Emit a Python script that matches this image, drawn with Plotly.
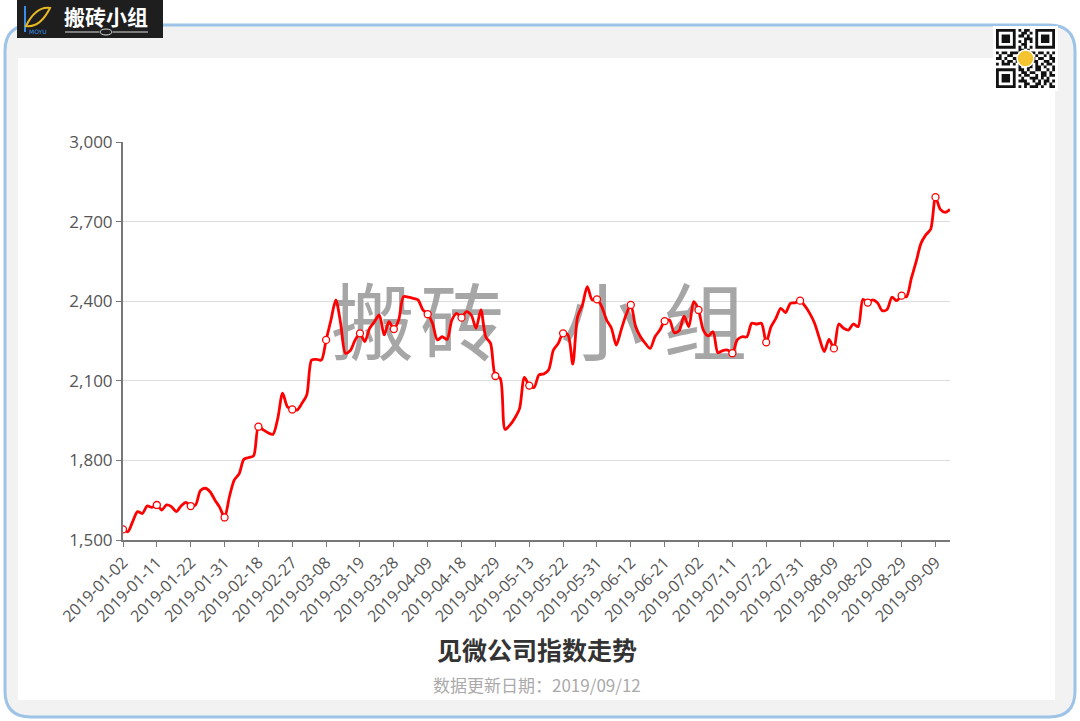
import plotly.graph_objects as go
import pandas as pd

# ---------------- data ----------------
holidays = ["2019-01-01", "2019-02-04", "2019-02-05", "2019-02-06", "2019-02-07",
            "2019-02-08", "2019-04-05", "2019-05-01", "2019-05-02", "2019-05-03",
            "2019-06-07"]
dates = [d.strftime("%Y-%m-%d") for d in pd.bdate_range("2019-01-02", "2019-09-12")
         if d.strftime("%Y-%m-%d") not in holidays]

index_values = [
    1540, 1531, 1569, 1607, 1600, 1628, 1623, 1632,
    1613, 1632, 1626, 1607, 1628, 1642, 1628,
    1632, 1686, 1695, 1682, 1651, 1623, 1585,
    1663, 1726, 1749, 1804, 1811, 1817, 1927,
    1915, 1904, 1898, 1958, 2053, 2002, 1992,
    1990, 2015, 2047, 2178, 2181, 2178, 2254,
    2329, 2405, 2317, 2204, 2214, 2254, 2279,
    2248, 2298, 2323, 2348, 2273, 2323, 2295,
    2329, 2417, 2415, 2411, 2405, 2367, 2351,
    2317, 2254, 2266, 2256, 2329, 2354, 2338,
    2361, 2348, 2298, 2367, 2266, 2241, 2118,
    2109, 1917, 1933, 1959, 1996, 2113, 2082,
    2075, 2122, 2126, 2141, 2216, 2241, 2279,
    2273, 2163, 2342, 2386, 2455, 2405, 2407,
    2379, 2329, 2298, 2235, 2291, 2348, 2386,
    2304, 2266, 2241, 2222, 2266, 2291, 2325,
    2329, 2281, 2289, 2344, 2304, 2398, 2367,
    2291, 2269, 2285, 2206, 2214, 2216, 2204,
    2254, 2266, 2266, 2317, 2314, 2317, 2245,
    2304, 2335, 2373, 2357, 2392, 2394, 2402,
    2382, 2354, 2317, 2260, 2210, 2256, 2222,
    2314, 2298, 2291, 2314, 2304, 2407, 2395,
    2405, 2394, 2364, 2369, 2415, 2402, 2421,
    2417, 2486, 2549, 2618, 2650, 2671, 2792,
    2746, 2735, 2746,
]

y_ticks = [1500, 1800, 2100, 2400, 2700, 3000]
label_step = 7
tick_dates = dates[::label_step]
marker_dates = dates[::label_step]
marker_values = index_values[::label_step]

title_text = "见微公司指数走势"
subtitle_text = "数据更新日期：2019/09/12"
watermark_text = "搬\u200a砖\u00a0\u00a0\u00a0小\u00a0组"
logo_text = "搬砖小组"

# ---------------- geometry helpers ----------------
W, H = 1080, 721
ML, MR, MT, MB = 123, 130, 142, 181
PW, PH = W - ML - MR, H - MT - MB


def X(px):
    return (px - ML) / PW


def Y(py):
    return (H - MB - py) / PH


def rrect_path(x0, y0, x1, y1, r):
    pts = [
        ("M", [(x0 + r, y0)]), ("L", [(x1 - r, y0)]), ("Q", [(x1, y0), (x1, y0 + r)]),
        ("L", [(x1, y1 - r)]), ("Q", [(x1, y1), (x1 - r, y1)]),
        ("L", [(x0 + r, y1)]), ("Q", [(x0, y1), (x0, y1 - r)]),
        ("L", [(x0, y0 + r)]), ("Q", [(x0, y0), (x0 + r, y0)]),
    ]
    s = ""
    for cmd, ps in pts:
        s += cmd + " " + " ".join(f"{X(a):.5f},{Y(b):.5f}" for a, b in ps) + " "
    return s + "Z"


def rect(x0, y0, x1, y1, fill, line_color=None, line_width=0, layer="below"):
    return dict(type="rect", xref="paper", yref="paper",
                x0=X(x0), x1=X(x1), y0=Y(y1), y1=Y(y0),
                fillcolor=fill, line=dict(color=line_color or fill, width=line_width),
                layer=layer)


shapes = []
# outer frame with rounded corners
shapes.append(dict(type="path", xref="paper", yref="paper", path=rrect_path(5, 25, 1075, 717, 26),
                   fillcolor="#f2f2f2", line=dict(color="#9dc3e6", width=3), layer="below"))
# white panel
shapes.append(rect(18, 58, 1055, 700, "#ffffff"))

# logo (top-left)
shapes.append(rect(17, 0, 163, 38, "#1e1e1e"))
shapes.append(dict(type="line", xref="paper", yref="paper", x0=X(25), x1=X(25), y0=Y(6), y1=Y(32),
                   line=dict(color="#3a8ee6", width=2)))
shapes.append(dict(type="path", xref="paper", yref="paper",
                   path=f"M {X(26):.5f},{Y(26):.5f} Q {X(36):.5f},{Y(6):.5f} {X(50):.5f},{Y(8):.5f} "
                        f"Q {X(40):.5f},{Y(28):.5f} {X(26):.5f},{Y(26):.5f} Z",
                   fillcolor="rgba(0,0,0,0)", line=dict(color="#e8b923", width=2)))
shapes.append(dict(type="line", xref="paper", yref="paper", x0=X(65), x1=X(99), y0=Y(32), y1=Y(32),
                   line=dict(color="#dddddd", width=1)))
shapes.append(dict(type="line", xref="paper", yref="paper", x0=X(113), x1=X(148), y0=Y(32), y1=Y(32),
                   line=dict(color="#dddddd", width=1)))
shapes.append(dict(type="circle", xref="paper", yref="paper", x0=X(100), x1=X(112), y0=Y(35), y1=Y(29),
                   line=dict(color="#dddddd", width=1), fillcolor="rgba(0,0,0,0)"))

# QR-like code (top-right)
qr_rows = [
    "111111101011001111111",
    "100000100110101000001",
    "101110101101001011101",
    "101110100011101011101",
    "101110101010101011101",
    "100000100110001000001",
    "111111101010101111111",
    "000000001101000000000",
    "101101110100110110101",
    "010011001011101001010",
    "110100111001010110011",
    "001011010110011001101",
    "101110101001101010110",
    "000000001001101101001",
    "111111101101001100101",
    "100000100110110011010",
    "101110101011001011011",
    "101110100100111010100",
    "101110101110010101101",
    "100000100011001101010",
    "111111101010111010011",
]
qx0, qy0, qs = 996, 29, 59 / 21
shapes.append(rect(993, 26, 1058, 91, "#ffffff"))
qr_path = ""
for r, row in enumerate(qr_rows):
    c = 0
    while c < len(row):
        if row[c] == "1":
            c0 = c
            while c < len(row) and row[c] == "1":
                c += 1
            xa, xb = qx0 + c0 * qs, qx0 + c * qs
            ya, yb = qy0 + r * qs, qy0 + (r + 1) * qs
            qr_path += (f"M {X(xa):.5f},{Y(ya):.5f} L {X(xb):.5f},{Y(ya):.5f} "
                        f"L {X(xb):.5f},{Y(yb):.5f} L {X(xa):.5f},{Y(yb):.5f} Z ")
        else:
            c += 1
shapes.append(dict(type="path", xref="paper", yref="paper", path=qr_path,
                   fillcolor="#111111", line=dict(width=0)))
shapes.append(dict(type="circle", xref="paper", yref="paper", x0=X(1017), x1=X(1034), y0=Y(67), y1=Y(50),
                   fillcolor="#f4c430", line=dict(color="#ffffff", width=1.5)))

# ---------------- figure ----------------
fig = go.Figure()

fig.add_trace(go.Scatter(
    x=[dates[86]], y=[2282], mode="text", text=[watermark_text],
    textfont=dict(size=84, color="rgba(150,150,150,0.85)", family="Noto Sans CJK SC"),
    hoverinfo="skip", showlegend=False, cliponaxis=False,
))

fig.add_trace(go.Scatter(
    x=dates, y=index_values, mode="lines",
    line=dict(color="#ff0000", width=2.8, shape="spline", smoothing=0.8),
    showlegend=False, hoverinfo="x+y",
))

fig.add_trace(go.Scatter(
    x=marker_dates, y=marker_values, mode="markers",
    marker=dict(symbol="circle", size=7, color="#ffffff", line=dict(color="#ff0000", width=1.3)),
    showlegend=False, hoverinfo="x+y",
))

annotations = [
    dict(text=f"<b>{title_text}</b>", xref="paper", yref="paper", x=X(537), y=Y(649),
         xanchor="center", yanchor="middle", showarrow=False,
         font=dict(size=25, color="#333333", family="Noto Sans CJK SC")),
    dict(text=subtitle_text, xref="paper", yref="paper", x=X(537), y=Y(684),
         xanchor="center", yanchor="middle", showarrow=False,
         font=dict(size=17, color="#aaaaaa", family="Noto Sans CJK SC")),
    dict(text=f"<b>{logo_text}</b>", xref="paper", yref="paper", x=X(106), y=Y(16),
         xanchor="center", yanchor="middle", showarrow=False,
         font=dict(size=21, color="#ffffff", family="Noto Sans CJK SC")),
    dict(text="MOYU", xref="paper", yref="paper", x=X(38), y=Y(31),
         xanchor="center", yanchor="middle", showarrow=False,
         font=dict(size=6, color="#3a8ee6", family="DejaVu Sans")),
]

fig.update_layout(
    width=W, height=H,
    margin=dict(l=ML, r=MR, t=MT, b=MB, pad=0),
    paper_bgcolor="#ffffff",
    plot_bgcolor="rgba(0,0,0,0)",
    shapes=shapes,
    annotations=annotations,
    showlegend=False,
    xaxis=dict(
        type="category", categoryorder="array", categoryarray=dates,
        range=[0, len(dates) - 1], tickmode="array", tickvals=tick_dates, ticktext=tick_dates,
        tickangle=-45, ticks="outside", ticklen=5, tickcolor="#777777", tickwidth=1,
        showline=True, linecolor="#777777", linewidth=2, showgrid=False, zeroline=False,
        tickfont=dict(size=16, color="#555555", family="Open Sans"),
    ),
    yaxis=dict(
        range=[1500, 3000], tickmode="array", tickvals=y_ticks, tickformat=",",
        ticks="outside", ticklen=5, tickcolor="#777777", tickwidth=1,
        showline=True, linecolor="#777777", linewidth=2,
        showgrid=True, gridcolor="#dddddd", gridwidth=1, zeroline=False,
        tickfont=dict(size=17, color="#555555", family="Open Sans"),
    ),
)

fig.write_html("out.html", config={"displayModeBar": False},
               post_script="document.body.style.margin='0';")
